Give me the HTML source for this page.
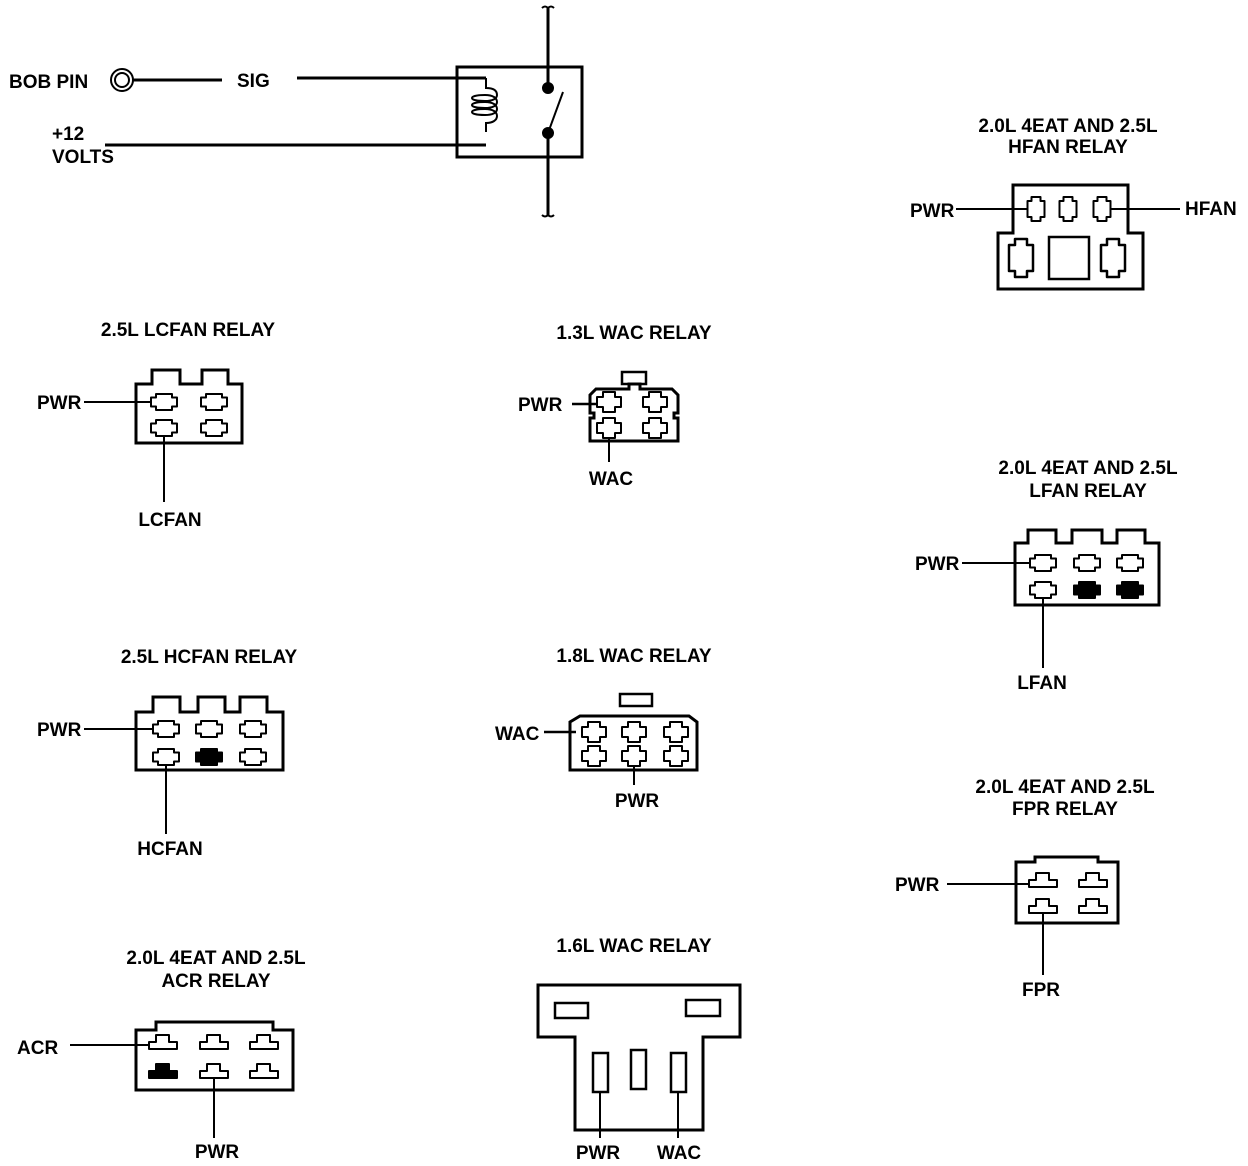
<!DOCTYPE html>
<html><head><meta charset="utf-8"><style>
html,body{margin:0;padding:0;background:#fff}
svg{display:block}
text{font-family:"Liberation Sans",sans-serif;font-weight:bold;font-size:19px;fill:#000}
</style></head><body>
<svg width="1248" height="1166" viewBox="0 0 1248 1166" xmlns="http://www.w3.org/2000/svg">
<defs>
<path id="pa" d="M-8,-8 h16 v3.5 h5 v9 h-5 v3.5 h-16 v-3.5 h-5 v-9 h5 z" fill="#fff" stroke="#000" stroke-width="2" stroke-linejoin="round"/>
<path id="paf" d="M-8,-8 h16 v3.5 h5 v9 h-5 v3.5 h-16 v-3.5 h-5 v-9 h5 z" fill="#000" stroke="#000" stroke-width="2" stroke-linejoin="round"/>
<path id="pv" d="M-4.5,-12 h9 v4 h4 v16 h-4 v4 h-9 v-4 h-4 v-16 h4 z" fill="#fff" stroke="#000" stroke-width="2" stroke-linejoin="round"/>
<path id="pvb" d="M-6,-19 h12 v6 h6 v26 h-6 v6 h-12 v-6 h-6 v-26 h6 z" fill="#fff" stroke="#000" stroke-width="2.5" stroke-linejoin="round"/>
<path id="pp" d="M-6,-10 h12 v5 h6 v10 h-6 v5 h-12 v-5 h-6 v-10 h6 z" fill="#fff" stroke="#000" stroke-width="2" stroke-linejoin="round"/>
<path id="pt" d="M-14,7 v-7 h7 v-7 h13 v7 h8 v7 z" fill="#fff" stroke="#000" stroke-width="2" stroke-linejoin="round"/>
<path id="ptf" d="M-14,7 v-7 h7 v-7 h13 v7 h8 v7 z" fill="#000" stroke="#000" stroke-width="2" stroke-linejoin="round"/>
</defs>
<g fill="none" stroke="#000" stroke-width="2">
<circle cx="122" cy="80" r="11"/>
<circle cx="122" cy="80" r="7"/>
<line x1="133" y1="80" x2="222" y2="80" stroke-width="3"/>
<line x1="297" y1="78" x2="486" y2="78" stroke-width="3"/>
<line x1="105" y1="145" x2="486" y2="145" stroke-width="3"/>
<rect x="457" y="67" width="125" height="90" stroke-width="3"/>
<path d="M486,78 v10 c8,0 11,3 11,7 c0,4 -5,6 -12,6 c-7,0 -13,-1 -13,-3 c0,-2 6,-3 13,-3 c8,0 12,3 12,7 c0,4 -5,6 -12,6 c-7,0 -13,-1 -13,-3 c0,-2 6,-3 13,-3 c8,0 12,3 12,7 c0,4 -5,6 -12,6 c-7,0 -13,-1 -13,-3 c0,-2 6,-3 13,-3 c8,0 12,3 12,7 c0,4 -4,7 -11,7 v9" stroke-width="2"/>
<line x1="548" y1="8" x2="548" y2="88" stroke-width="3"/>
<line x1="548" y1="133" x2="548" y2="215" stroke-width="3"/>
<path d="M542,8 q3,-3 6,0 M542,215 q3,3 6,0 M548,8 q3,-3 6,0 M548,215 q3,3 6,0"/>
<line x1="548" y1="133" x2="563" y2="92" stroke-width="2"/>
<circle cx="548" cy="88" r="5" fill="#000"/>
<circle cx="548" cy="133" r="5" fill="#000"/>

<path d="M136,384 H152 V370 H180 V384 H202 V370 H228 V384 H242 V443 H136 Z" stroke-width="3"/>
<line x1="84" y1="402" x2="151" y2="402"/>
<line x1="164" y1="436" x2="164" y2="502"/>

<rect x="622" y="372" width="24" height="12" stroke-width="2.5"/>
<path d="M596,389 H629 V384 H640 V389 H672 L678,395 V413 H674 V418 H678 V441 H590 V418 H594 V413 H590 V395 Z" stroke-width="3"/>
<line x1="572" y1="404" x2="597" y2="404" stroke-width="2.5"/>
<line x1="609" y1="438" x2="609" y2="462"/>

<path d="M136,712 H153 V697 H180 V712 H198 V697 H225 V712 H240 V697 H267 V712 H283 V770 H136 Z" stroke-width="3"/>
<line x1="84" y1="729" x2="153" y2="729"/>
<line x1="166" y1="765" x2="166" y2="834"/>

<rect x="620" y="694" width="32" height="12" stroke-width="2.5"/>
<path d="M580,716 H689 L697,722 V770 H570 V722 Z" stroke-width="3"/>
<line x1="544" y1="732" x2="576" y2="732" stroke-width="2.5"/>
<line x1="634" y1="766" x2="634" y2="785"/>

<path d="M136,1030 H156 V1022 H273 V1030 H293 V1090 H136 Z" stroke-width="3"/>
<line x1="70" y1="1045" x2="149" y2="1045"/>
<line x1="214" y1="1078" x2="214" y2="1138"/>

<path d="M538,985 H740 V1037 H703 V1130 H575 V1037 H538 Z" stroke-width="3"/>
<rect x="555" y="1003" width="33" height="15" stroke-width="2.5"/>
<rect x="686" y="1000" width="34" height="16" stroke-width="2.5"/>
<rect x="593" y="1053" width="15" height="39" stroke-width="2.5"/>
<rect x="631" y="1050" width="15" height="39" stroke-width="2.5"/>
<rect x="671" y="1053" width="15" height="39" stroke-width="2.5"/>
<line x1="600" y1="1092" x2="600" y2="1138"/>
<line x1="678" y1="1092" x2="678" y2="1138"/>

<path d="M1013,185 H1128 V233 H1143 V289 H998 V233 H1013 Z" stroke-width="3"/>
<rect x="1049" y="237" width="40" height="42" stroke-width="2.5"/>
<line x1="956" y1="209" x2="1028" y2="209"/>
<line x1="1110" y1="209" x2="1180" y2="209"/>

<path d="M1015,543 H1028 V530 H1056 V543 H1072 V530 H1102 V543 H1117 V530 H1145 V543 H1159 V605 H1015 Z" stroke-width="3"/>
<line x1="962" y1="563" x2="1030" y2="563"/>
<line x1="1043" y1="598" x2="1043" y2="668"/>

<path d="M1016,862 H1035 V857 H1098 V862 H1118 V923 H1016 Z" stroke-width="3"/>
<line x1="947" y1="884" x2="1029" y2="884"/>
<line x1="1043" y1="913" x2="1043" y2="975"/>
</g>

<use href="#pa" x="164" y="402"/><use href="#pa" x="214" y="402"/>
<use href="#pa" x="164" y="428"/><use href="#pa" x="214" y="428"/>

<use href="#pp" x="609" y="402"/><use href="#pp" x="655" y="402"/>
<use href="#pp" x="609" y="428"/><use href="#pp" x="655" y="428"/>

<use href="#pa" x="166" y="729"/><use href="#pa" x="209" y="729"/><use href="#pa" x="253" y="729"/>
<use href="#pa" x="166" y="757"/><use href="#paf" x="209" y="757"/><use href="#pa" x="253" y="757"/>

<use href="#pp" x="594" y="732"/><use href="#pp" x="634" y="732"/><use href="#pp" x="676" y="732"/>
<use href="#pp" x="594" y="756"/><use href="#pp" x="634" y="756"/><use href="#pp" x="676" y="756"/>

<use href="#pt" x="163" y="1042"/><use href="#pt" x="214" y="1042"/><use href="#pt" x="264" y="1042"/>
<use href="#ptf" x="163" y="1071"/><use href="#pt" x="214" y="1071"/><use href="#pt" x="264" y="1071"/>

<use href="#pv" x="1036" y="209"/><use href="#pv" x="1068" y="209"/><use href="#pv" x="1102" y="209"/>
<use href="#pvb" x="1021" y="258"/><use href="#pvb" x="1113" y="258"/>

<use href="#pa" x="1043" y="563"/><use href="#pa" x="1087" y="563"/><use href="#pa" x="1130" y="563"/>
<use href="#pa" x="1043" y="590"/><use href="#paf" x="1087" y="590"/><use href="#paf" x="1130" y="590"/>

<use href="#pt" x="1043" y="880"/><use href="#pt" x="1093" y="880"/>
<use href="#pt" x="1043" y="906"/><use href="#pt" x="1093" y="906"/>

<text x="9" y="88">BOB PIN</text>
<text x="237" y="87">SIG</text>
<text x="52" y="140">+12</text>
<text x="52" y="163">VOLTS</text>

<g text-anchor="middle">
<text x="188" y="336">2.5L LCFAN RELAY</text>
<text x="634" y="339">1.3L WAC RELAY</text>
<text x="209" y="663">2.5L HCFAN RELAY</text>
<text x="634" y="662">1.8L WAC RELAY</text>
<text x="216" y="964">2.0L 4EAT AND 2.5L</text>
<text x="216" y="987">ACR RELAY</text>
<text x="634" y="952">1.6L WAC RELAY</text>
<text x="1068" y="132">2.0L 4EAT AND 2.5L</text>
<text x="1068" y="153">HFAN RELAY</text>
<text x="1088" y="474">2.0L 4EAT AND 2.5L</text>
<text x="1088" y="497">LFAN RELAY</text>
<text x="1065" y="793">2.0L 4EAT AND 2.5L</text>
<text x="1065" y="815">FPR RELAY</text>

<text x="170" y="526">LCFAN</text>
<text x="611" y="485">WAC</text>
<text x="170" y="855">HCFAN</text>
<text x="637" y="807">PWR</text>
<text x="217" y="1158">PWR</text>
<text x="598" y="1159">PWR</text>
<text x="679" y="1159">WAC</text>
<text x="1042" y="689">LFAN</text>
<text x="1041" y="996">FPR</text>
</g>
<text x="37" y="409">PWR</text>
<text x="518" y="411">PWR</text>
<text x="37" y="736">PWR</text>
<text x="495" y="740">WAC</text>
<text x="17" y="1054">ACR</text>
<text x="910" y="217">PWR</text>
<text x="1185" y="215">HFAN</text>
<text x="915" y="570">PWR</text>
<text x="895" y="891">PWR</text>
</svg>
</body></html>
